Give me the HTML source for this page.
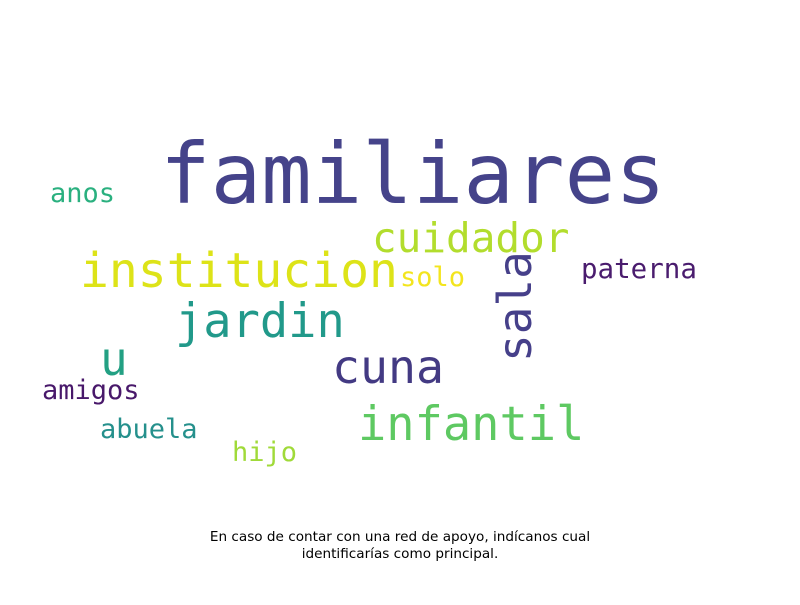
<!DOCTYPE html>
<html><head><meta charset="utf-8"><style>
html,body{margin:0;padding:0;background:#fff;}
svg text.w{font-family:"DejaVu Sans Mono","Liberation Mono",monospace;}
</style></head><body>
<svg id="cloud" width="800" height="600" viewBox="0 0 800 600" xmlns="http://www.w3.org/2000/svg">
<rect width="800" height="600" fill="#fff"/>
<g id="words"></g>
<text x="400" y="541" text-anchor="middle" font-family="DejaVu Sans, Liberation Sans, sans-serif" font-size="13.6" fill="#000">En caso de contar con una red de apoyo, indícanos cual</text>
<text x="400" y="558" text-anchor="middle" font-family="DejaVu Sans, Liberation Sans, sans-serif" font-size="13.6" fill="#000">identificarías como principal.</text>
</svg>
<script>
const words = ["familiares","institucion","cuidador","jardin","cuna","infantil","sala","u","anos","paterna","solo","amigos","abuela","hijo"];
const sizes = [84,48,41,47,46.5,47,46,46,27,27.5,27,27,27,27];
const colors = ["#45438a","#dde318","#b2dd2d","#21998a","#433a83","#5ec962","#46408a","#23a083","#2ab07f","#4a1c6e","#f3e51e","#48186a","#25908c","#a0da39"];
const xs = [160,80,372,175,332,358,531,100,50,581,400,42,100,232];
const ys = [203,287,252,337,383,440,362,375,202,278,286,399,438,461];
const rotated = [0,0,0,0,0,0,1,0,0,0,0,0,0,0];
const g = document.getElementById('words');
const NS = "http://www.w3.org/2000/svg";
words.forEach((w,i)=>{
  const t = document.createElementNS(NS,'text');
  
  
  t.setAttribute('class','w');
  t.setAttribute('font-size', sizes[i]);
  t.setAttribute('fill', colors[i]);
  if (rotated[i]) {
    t.setAttribute('transform', 'translate(' + xs[i] + ',' + ys[i] + ') rotate(-90)');
    t.setAttribute('x', 0); t.setAttribute('y', 0);
  } else {
    t.setAttribute('x', xs[i]); t.setAttribute('y', ys[i]);
  }
  t.textContent = w;
  g.appendChild(t);
});
</script>
</body></html>
